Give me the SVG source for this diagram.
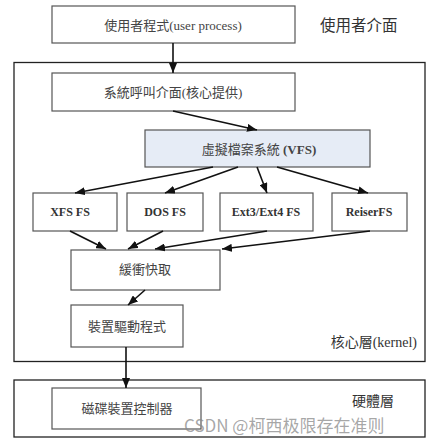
<svg xmlns="http://www.w3.org/2000/svg" width="428" height="444" viewBox="0 0 428 444">
<style>
.bg{fill:#fff}
.layer{fill:none;stroke:#222;stroke-width:1.3}
.box{fill:#fff;stroke:#555;stroke-width:1.2}
.vfs{fill:#e6ecf6;stroke:#555;stroke-width:1.2}
.t{font-family:"Liberation Serif","Noto Sans CJK TC",serif;font-size:13px;fill:#444;text-anchor:middle;dominant-baseline:central}
.b{font-weight:bold;font-size:12px;fill:#333}
.lab{font-family:"Noto Sans CJK TC","Liberation Sans",sans-serif;font-size:15.5px;fill:#333}
.lab2{font-family:"Liberation Serif","Noto Sans CJK TC",serif;font-size:14px;fill:#333}
.wm{font-family:"Noto Sans CJK SC","Liberation Sans",sans-serif;font-size:17px;fill:#8a8a8a;fill-opacity:0.75}
.c line{stroke:#111;stroke-width:1.6}
</style>
<defs>
<marker id="ah" viewBox="0 0 10 8" refX="10" refY="4" markerWidth="10" markerHeight="8" markerUnits="userSpaceOnUse" orient="auto">
<path d="M0,0 L10,4 L0,8 z" fill="#111"/>
</marker>
</defs>
<rect class="bg" width="428" height="444"/>
<g id="kernel-layer">
<rect class="layer" x="14" y="62.5" width="411" height="299"/>
<text class="lab2" x="417" y="347" text-anchor="end">核心層(kernel)</text>
</g>
<g id="hardware-layer">
<rect class="layer" x="14" y="380" width="411" height="57"/>
<text class="lab2" x="394" y="406" text-anchor="end" font-size="12.5">硬體層</text>
</g>
<g id="user-label">
<text class="lab" x="320" y="31">使用者介面</text>
</g>
<g id="user-process">
<rect class="box" x="52" y="6" width="243" height="37"/>
<text class="t" x="173" y="25">使用者程式(user process)</text>
</g>
<g id="syscall">
<rect class="box" x="52" y="73" width="243" height="38"/>
<text class="t" x="173" y="92">系統呼叫介面(核心提供)</text>
</g>
<g id="vfs">
<rect class="vfs" x="145" y="130" width="225" height="37"/>
<text class="t" x="259" y="149">虛擬檔案系統 <tspan font-weight="bold">(VFS)</tspan></text>
</g>
<g id="xfs">
<rect class="box" x="33" y="193" width="84" height="38"/>
<text class="t b" x="70" y="212">XFS FS</text>
</g>
<g id="dos">
<rect class="box" x="127" y="193" width="76" height="38"/>
<text class="t b" x="165" y="212">DOS FS</text>
</g>
<g id="ext">
<rect class="box" x="220" y="193" width="93" height="38"/>
<text class="t b" x="266" y="212">Ext3/Ext4 FS</text>
</g>
<g id="reiser">
<rect class="box" x="332" y="193" width="75" height="38"/>
<text class="t b" x="369" y="212">ReiserFS</text>
</g>
<g id="cache">
<rect class="box" x="71" y="250" width="149" height="40"/>
<text class="t" x="145" y="269">緩衝快取</text>
</g>
<g id="driver">
<rect class="box" x="71" y="305" width="112" height="42"/>
<text class="t" x="127" y="326">裝置驅動程式</text>
</g>
<g id="disk-controller">
<rect class="box" x="52" y="388" width="149" height="41"/>
<text class="t" x="127" y="408">磁碟裝置控制器</text>
</g>
<g id="connectors" class="c">
<line x1="173" y1="43" x2="173" y2="73" marker-end="url(#ah)"/>
<line x1="173" y1="111" x2="257" y2="130" marker-end="url(#ah)"/>
<line x1="213" y1="167" x2="75" y2="193" marker-end="url(#ah)"/>
<line x1="238" y1="167" x2="165" y2="193" marker-end="url(#ah)"/>
<line x1="257" y1="167" x2="267" y2="193" marker-end="url(#ah)"/>
<line x1="277" y1="167" x2="368" y2="193" marker-end="url(#ah)"/>
<line x1="70" y1="231" x2="106" y2="249" marker-end="url(#ah)"/>
<line x1="163" y1="231" x2="128" y2="249" marker-end="url(#ah)"/>
<line x1="267" y1="231" x2="155" y2="249" marker-end="url(#ah)"/>
<line x1="370" y1="231" x2="222" y2="249" marker-end="url(#ah)"/>
<line x1="145" y1="290" x2="128" y2="305" marker-end="url(#ah)"/>
<line x1="126" y1="347" x2="126" y2="388" marker-end="url(#ah)"/>
</g>
<text class="wm" x="184" y="432">CSDN @柯西极限存在准则</text>
</svg>
